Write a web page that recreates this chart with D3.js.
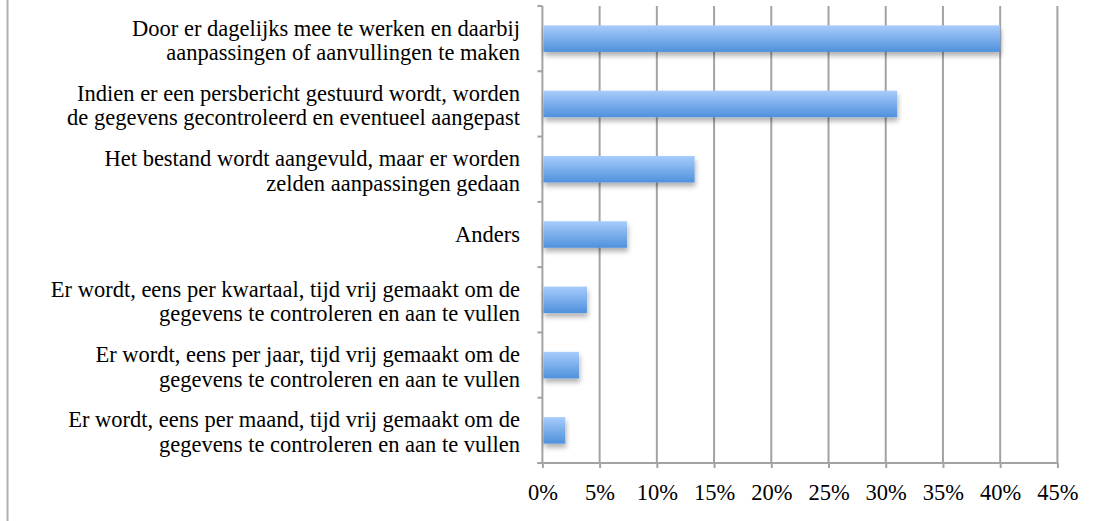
<!DOCTYPE html>
<html>
<head>
<meta charset="utf-8">
<script src="https://cdn.jsdelivr.net/npm/d3@7"></script>
<style>
  html, body { margin: 0; padding: 0; background: #fff; }
  svg { display: block; }
  svg text { font-family: 'Liberation Serif', 'Times New Roman', serif; fill: #000; }
</style>
</head>
<body>
<svg id="chart"></svg>
<script>
var width = 1107;
var height = 521;

// categories, two lines each, top to bottom
var labelLine1 = [
  'Door er dagelijks mee te werken en daarbij',
  'Indien er een persbericht gestuurd wordt, worden',
  'Het bestand wordt aangevuld, maar er worden',
  'Anders',
  'Er wordt, eens per kwartaal, tijd vrij gemaakt om de',
  'Er wordt, eens per jaar, tijd vrij gemaakt om de',
  'Er wordt, eens per maand, tijd vrij gemaakt om de'
];
var labelLine2 = [
  'aanpassingen of aanvullingen te maken',
  'de gegevens gecontroleerd en eventueel aangepast',
  'zelden aanpassingen gedaan',
  '',
  'gegevens te controleren en aan te vullen',
  'gegevens te controleren en aan te vullen',
  'gegevens te controleren en aan te vullen'
];
var values = [0.40, 0.31, 0.133, 0.074, 0.039, 0.032, 0.020];
var tickValues = [0, 0.05, 0.10, 0.15, 0.20, 0.25, 0.30, 0.35, 0.40, 0.45];

var margin = { top: 6, bottom: 58, left: 542.4, right: 49.6 };
var fontSize = 22.5;
var serif = "'Liberation Serif', 'Times New Roman', serif";

var svg = d3.select('#chart').attr('width', width).attr('height', height);

var defs = svg.append('defs');
var grad = defs.append('linearGradient')
  .attr('id', 'barFill')
  .attr('x1', 0).attr('y1', 0).attr('x2', 0).attr('y2', 1);
grad.append('stop').attr('offset', '0%').attr('stop-color', '#a8ccfc');
grad.append('stop').attr('offset', '100%').attr('stop-color', '#4e91dc');

var shadow = defs.append('filter')
  .attr('id', 'barShadow')
  .attr('x', '-10%').attr('y', '-20%')
  .attr('width', '130%').attr('height', '180%');
shadow.append('feDropShadow')
  .attr('dx', 1).attr('dy', 4)
  .attr('stdDeviation', 2.5)
  .attr('flood-color', '#000')
  .attr('flood-opacity', 0.3);

var x = d3.scaleLinear()
  .domain([0, 0.45])
  .range([margin.left, width - margin.right]);

var y = d3.scaleBand()
  .domain(d3.range(values.length))
  .range([margin.top, height - margin.bottom])
  .paddingInner(0.594)
  .paddingOuter(0.297);

var plotBottom = height - margin.bottom;

// outer frame edge on the left
svg.append('line')
  .attr('x1', 7.5).attr('x2', 7.5)
  .attr('y1', 0).attr('y2', height)
  .attr('stroke', '#b0b0b0')
  .attr('stroke-width', 2);

// vertical gridlines
svg.append('g').selectAll('line')
  .data(tickValues.slice(1))
  .enter().append('line')
  .attr('x1', function(d) { return x(d); })
  .attr('x2', function(d) { return x(d); })
  .attr('y1', margin.top)
  .attr('y2', plotBottom)
  .attr('stroke', '#a3a3a3')
  .attr('stroke-width', 2);

// x axis
var xAxis = d3.axisBottom(x)
  .tickValues(tickValues)
  .tickSize(5)
  .tickPadding(16)
  .tickFormat(d3.format('.0%'));
var xg = svg.append('g')
  .attr('transform', 'translate(0,' + plotBottom + ')')
  .call(xAxis)
  .attr('font-family', serif)
  .attr('font-size', fontSize);
xg.select('.domain')
  .attr('d', 'M' + (x(0) - 5) + ',0H' + x(0.45))
  .attr('stroke', '#a3a3a3')
  .attr('stroke-width', 2);
xg.selectAll('.tick line').attr('stroke', '#a3a3a3').attr('stroke-width', 2);
xg.selectAll('.tick text')
  .style('font-family', serif)
  .attr('dy', '0.71em');

// y axis line with category boundary ticks
var step = y.step();
var boundaries = d3.range(values.length + 1).map(function(i) {
  return margin.top + i * step;
});
svg.append('line')
  .attr('x1', x(0)).attr('x2', x(0))
  .attr('y1', margin.top).attr('y2', plotBottom)
  .attr('stroke', '#a3a3a3')
  .attr('stroke-width', 2);
svg.append('g').selectAll('line')
  .data(boundaries)
  .enter().append('line')
  .attr('x1', x(0) - 5).attr('x2', x(0))
  .attr('y1', function(d) { return d; })
  .attr('y2', function(d) { return d; })
  .attr('stroke', '#a3a3a3')
  .attr('stroke-width', 2);

// bars
svg.append('g').selectAll('rect')
  .data(values)
  .enter().append('rect')
  .attr('x', x(0) + 1)
  .attr('y', function(d, i) { return y(i); })
  .attr('width', function(d) { return x(d) - x(0) - 1; })
  .attr('height', y.bandwidth())
  .attr('fill', 'url(#barFill)')
  .attr('filter', 'url(#barShadow)');

// category labels
var lineGap = 24.5;
var labels = svg.append('g').selectAll('text')
  .data(d3.range(values.length))
  .enter().append('text')
  .attr('text-anchor', 'end')
  .style('font-family', serif)
  .attr('font-size', fontSize)
  .attr('x', 520)
  .attr('y', function(i) {
    var c = y(i) + y.bandwidth() / 2;
    return labelLine2[i] ? c - 3 : c + 7;
  });
labels.append('tspan')
  .attr('x', 520)
  .text(function(i) { return labelLine1[i]; });
labels.append('tspan')
  .attr('x', 520)
  .attr('dy', lineGap)
  .text(function(i) { return labelLine2[i]; });
</script>
</body>
</html>
